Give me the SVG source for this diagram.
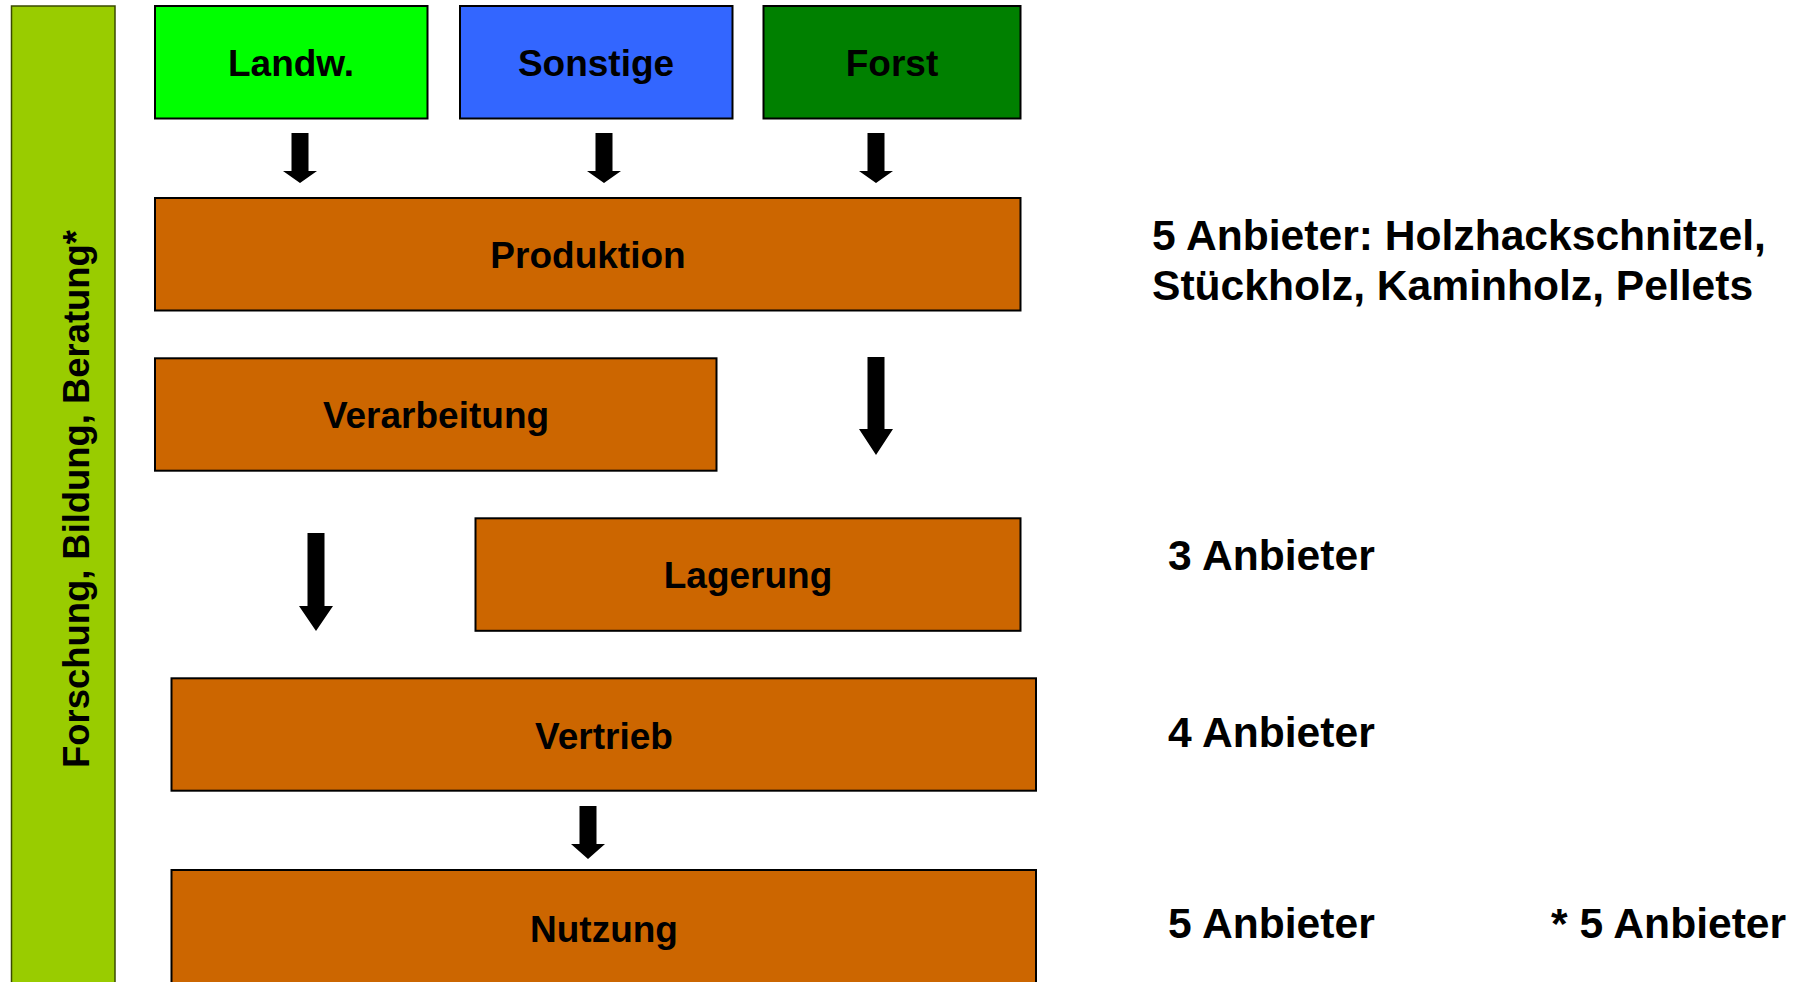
<svg xmlns="http://www.w3.org/2000/svg" width="1802" height="982" viewBox="0 0 1802 982">
<style>
.box{stroke:#000;stroke-width:2}
.org{fill:#CC6600}
.lbl{font-family:"Liberation Sans",Arial,sans-serif;font-weight:bold;font-size:37px;fill:#000;text-anchor:middle}
.vl{font-size:36.4px}
.note{font-family:"Liberation Sans",Arial,sans-serif;font-weight:bold;font-size:42.6px;fill:#000}
.arr{fill:#000}
</style>
<rect width="1802" height="982" fill="#fff"/>
<g id="forschung">
<rect x="11.5" y="6" width="103.5" height="990" fill="#99CC00" stroke="#3a4a00" stroke-width="1.5"/>
<text class="lbl vl" transform="translate(89,499) rotate(-90)">Forschung, Bildung, Beratung*</text>
</g>
<g id="landw">
<rect class="box" x="155" y="6" width="272.5" height="112.5" fill="#00FF00"/>
<text class="lbl" x="291" y="75.7">Landw.</text>
</g>
<g id="sonstige">
<rect class="box" x="460" y="6" width="272.5" height="112.5" fill="#3366FF"/>
<text class="lbl" x="596" y="75.7">Sonstige</text>
</g>
<g id="forst">
<rect class="box" x="763.5" y="6" width="257" height="112.5" fill="#008000"/>
<text class="lbl" x="892" y="75.7">Forst</text>
</g>
<g id="produktion">
<rect class="box org" x="155" y="198" width="865.5" height="112.5"/>
<text class="lbl" x="588" y="267.7">Produktion</text>
</g>
<g id="verarbeitung">
<rect class="box org" x="155" y="358.3" width="561.5" height="112.4"/>
<text class="lbl" x="436" y="428.3">Verarbeitung</text>
</g>
<g id="lagerung">
<rect class="box org" x="475.5" y="518.3" width="545" height="112.5"/>
<text class="lbl" x="748" y="588">Lagerung</text>
</g>
<g id="vertrieb">
<rect class="box org" x="171.5" y="678.3" width="864.5" height="112.4"/>
<text class="lbl" x="604" y="749">Vertrieb</text>
</g>
<g id="nutzung">
<rect class="box org" x="171.5" y="870" width="864.5" height="118"/>
<text class="lbl" x="604" y="941.7">Nutzung</text>
</g>
<g id="notes">
<text class="note" x="1152" y="250">5 Anbieter: Holzhackschnitzel,</text>
<text class="note" x="1152" y="300">Stückholz, Kaminholz, Pellets</text>
<text class="note" x="1168" y="570">3 Anbieter</text>
<text class="note" x="1168" y="746.7">4 Anbieter</text>
<text class="note" x="1168" y="938">5 Anbieter</text>
<text class="note" x="1551" y="938">* 5 Anbieter</text>
</g>
<g id="connectors">
<path class="arr" d="M291.5,133 H308.5 V171 H317 L300,183 L283,171 H291.5 Z"/>
<path class="arr" d="M595.5,133 H612.5 V171 H621 L604,183 L587,171 H595.5 Z"/>
<path class="arr" d="M867.5,133 H884.5 V171 H893 L876,183 L859,171 H867.5 Z"/>
<path class="arr" d="M867.5,357 H884.5 V429 H893 L876,455 L859,429 H867.5 Z"/>
<path class="arr" d="M307.5,533 H324.5 V606 H333 L316,631 L299,606 H307.5 Z"/>
<path class="arr" d="M579.5,806 H596.5 V844 H605 L588,859 L571,844 H579.5 Z"/>
</g>
</svg>
